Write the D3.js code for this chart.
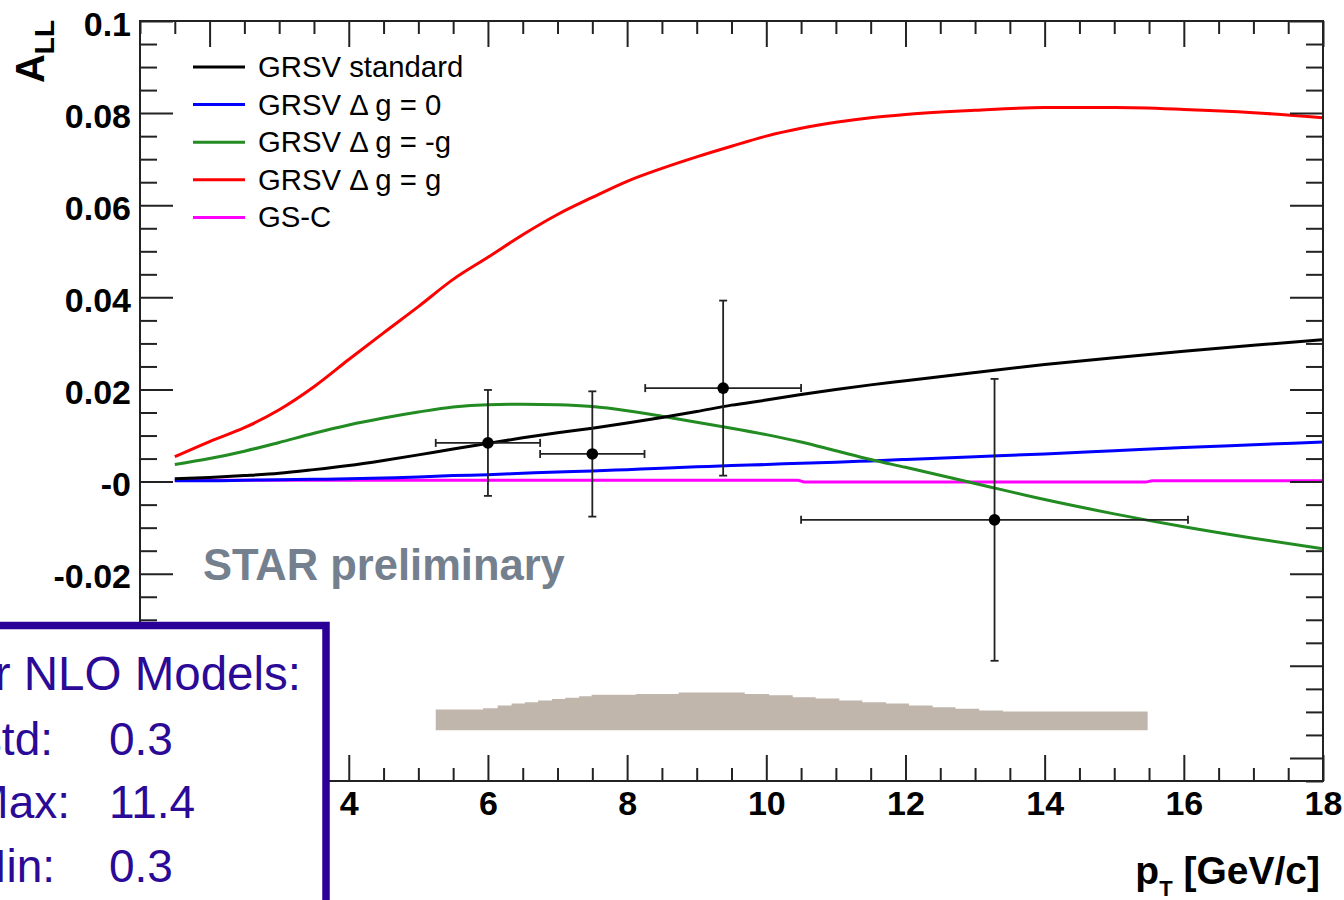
<!DOCTYPE html>
<html>
<head>
<meta charset="utf-8">
<script src="https://cdn.jsdelivr.net/npm/d3@7"></script>
<style>
body { margin:0; background:white; }
svg { display:block; font-family:"Liberation Sans", Arial, Helvetica, sans-serif; }
.axis .tick line { stroke:#222; stroke-width:2; }
.axis text { font-size:34px; font-weight:bold; fill:#000; font-family:"Liberation Sans", Arial, sans-serif; }
</style>
</head>
<body>
<svg id="chart"></svg>
<script>
// model curves, all sampled at the same pT values
var curveX = [1.5,2,2.5,3,3.5,4,4.5,5,5.5,6,6.5,7,7.5,8,8.5,9,9.5,10,10.5,11,11.5,12,13,14,15,16,17,18];
var grsvStd = [0.0006,0.0009,0.0013,0.0018,0.0026,0.0035,0.0046,0.0058,0.0071,0.0083,0.0095,0.0106,0.0116,0.0127,0.0139,0.0152,0.0166,0.0177,0.0189,0.0200,0.0210,0.0219,0.0237,0.0254,0.0269,0.0283,0.0296,0.0308];
var grsvZero = [0.0002,0.0002,0.0003,0.0004,0.0005,0.0006,0.0008,0.0010,0.0013,0.0015,0.0018,0.0021,0.0023,0.0026,0.0029,0.0032,0.0035,0.0037,0.0040,0.0042,0.0045,0.0048,0.0054,0.0060,0.0067,0.0074,0.0080,0.0086];
var grsvMinus = [0.0037,0.0050,0.0066,0.0085,0.0105,0.0123,0.0138,0.0151,0.0162,0.0167,0.0168,0.0167,0.0163,0.0154,0.0142,0.0129,0.0116,0.0102,0.0086,0.0067,0.0048,0.0031,-0.0004,-0.0039,-0.0070,-0.0098,-0.0123,-0.0146];
var grsvMax = [0.0054,0.0087,0.0117,0.0156,0.0206,0.0265,0.0323,0.0380,0.0439,0.0487,0.0536,0.0580,0.0617,0.0652,0.0680,0.0705,0.0728,0.0750,0.0767,0.0780,0.0790,0.0797,0.0806,0.0812,0.0812,0.0808,0.0801,0.0790];
// GS-C is almost flat, only a few steps
var gscX = [1.5,10.45,10.55,15.45,15.55,18];
var gscY = [0.0003,0.0003,-0.0001,-0.0001,0.0002,0.0002];

var seriesNames = ["GRSV standard","GRSV \u0394 g = 0","GRSV \u0394 g = -g","GRSV \u0394 g = g","GS-C"];
var seriesColors = ["#000000","#0000ff","#228b22","#ff0000","#ff00ff"];

// STAR data points
var ptX = [6.0, 7.5, 9.38, 13.28];
var ptY = [0.0084, 0.0060, 0.0203, -0.0083];
var ptXErr = [0.75, 0.75, 1.12, 2.78];
var ptYErr = [0.0115, 0.0136, 0.0190, 0.0306];

// systematic band
var bandEdges = [5.25,5.93,6.14,6.34,6.53,6.72,6.92,7.11,7.31,7.49,8.13,8.74,9.69,10.04,10.38,10.71,11.05,11.38,11.72,12.05,12.39,12.72,13.06,13.40,15.48];
var bandTop = [-0.0495,-0.0492,-0.0486,-0.0482,-0.0479,-0.0475,-0.0472,-0.0469,-0.0466,-0.0463,-0.0461,-0.0458,-0.0461,-0.0464,-0.0468,-0.0471,-0.0475,-0.0479,-0.0482,-0.0486,-0.0490,-0.0493,-0.0497,-0.0499];
var bandLow = -0.054;

var xMajor = [2,4,6,8,10,12,14,16,18];
var yMajor = [-0.06,-0.04,-0.02,0,0.02,0.04,0.06,0.08,0.1];
var yLabels = ["-0.06","-0.04","-0.02","-0","0.02","0.04","0.06","0.08","0.1"];

var chiTitle = "\u03c7\u00b2 for NLO Models:";
var chiNames = ["GRSV-std:","GRSV-Max:","GRSV-Min:"];
var chiValues = ["0.3","11.4","0.3"];

var screen = {width:1344, height:900};
var frame = {left:140, right:1323, top:21, bottom:781};

var svg = d3.select("#chart")
    .attr("width",screen.width)
    .attr("height",screen.height);

var xScale = d3.scaleLinear().domain([1,18]).range([frame.left,frame.right]);
var yScale = d3.scaleLinear().domain([-0.065,0.1]).range([frame.bottom,frame.top]);

var plot = svg.append("g").classed("plot",true);

//systematic band
var bandData = bandEdges.map(function(e,i){
    return {x:e, top:bandTop[Math.min(i,bandTop.length-1)]};
});
plot.append("path")
    .datum(bandData)
    .attr("fill","#c1b6ac")
    .attr("d",d3.area()
        .curve(d3.curveStepAfter)
        .x(function(d){return xScale(d.x);})
        .y0(yScale(bandLow))
        .y1(function(d){return yScale(d.top);}));

//model lines
var lineGenerator = d3.line()
    .x(function(d){return xScale(d[0]);})
    .y(function(d){return yScale(d[1]);})
    .curve(d3.curveMonotoneX);

var models = [grsvStd,grsvZero,grsvMinus,grsvMax].map(function(vals){
    return vals.map(function(v,i){return [curveX[i],v];});
});
models.push(gscX.map(function(x,i){return [x,gscY[i]];}));

// draw in an order close to the original overlap
[4,1,2,0,3].forEach(function(k){
    plot.append("path")
        .datum(models[k])
        .attr("fill","none")
        .attr("stroke",seriesColors[k])
        .attr("stroke-width",3)
        .attr("d",lineGenerator);
});

//data points with error bars
var pts = plot.selectAll(".pt")
    .data(ptX.map(function(x,i){return {x:x,y:ptY[i],ex:ptXErr[i],ey:ptYErr[i]};}))
    .enter()
    .append("g")
    .classed("pt",true)
    .attr("stroke","#222")
    .attr("stroke-width",1.8);

pts.append("line")
    .attr("x1",function(d){return xScale(d.x-d.ex);})
    .attr("x2",function(d){return xScale(d.x+d.ex);})
    .attr("y1",function(d){return yScale(d.y);})
    .attr("y2",function(d){return yScale(d.y);});
pts.append("line")
    .attr("x1",function(d){return xScale(d.x);})
    .attr("x2",function(d){return xScale(d.x);})
    .attr("y1",function(d){return yScale(d.y-d.ey);})
    .attr("y2",function(d){return yScale(d.y+d.ey);});
//end caps
[-1,1].forEach(function(s){
    pts.append("line")
        .attr("x1",function(d){return xScale(d.x+s*d.ex);})
        .attr("x2",function(d){return xScale(d.x+s*d.ex);})
        .attr("y1",function(d){return yScale(d.y)-4;})
        .attr("y2",function(d){return yScale(d.y)+4;});
    pts.append("line")
        .attr("x1",function(d){return xScale(d.x)-4;})
        .attr("x2",function(d){return xScale(d.x)+4;})
        .attr("y1",function(d){return yScale(d.y+s*d.ey);})
        .attr("y2",function(d){return yScale(d.y+s*d.ey);});
});
pts.append("circle")
    .attr("cx",function(d){return xScale(d.x);})
    .attr("cy",function(d){return yScale(d.y);})
    .attr("r",5.8)
    .attr("fill","#000")
    .attr("stroke","none");

//axes
var xMinor = d3.range(2,37).map(function(k){return k*0.5;}).filter(function(v){return v%2!==0;});
var yMinor = d3.range(-13,21).filter(function(k){return k%4!==0;}).map(function(k){return k*0.005;});

var axes = svg.append("g");
axes.append("g").classed("axis",true)
    .attr("transform","translate(0,"+frame.bottom+")")
    .call(d3.axisBottom(xScale).tickValues(xMajor).tickSize(-26).tickPadding(10).tickFormat(d3.format("d")));
axes.append("g").classed("axis",true)
    .attr("transform","translate(0,"+frame.bottom+")")
    .call(d3.axisBottom(xScale).tickValues(xMinor).tickSize(-13).tickFormat(""));
axes.append("g").classed("axis",true)
    .attr("transform","translate(0,"+frame.top+")")
    .call(d3.axisTop(xScale).tickValues(xMajor).tickSize(-26).tickFormat(""));
axes.append("g").classed("axis",true)
    .attr("transform","translate(0,"+frame.top+")")
    .call(d3.axisTop(xScale).tickValues(xMinor).tickSize(-13).tickFormat(""));

axes.append("g").classed("axis",true)
    .attr("transform","translate("+frame.left+",0)")
    .call(d3.axisLeft(yScale).tickValues(yMajor).tickSize(-33).tickPadding(9)
        .tickFormat(function(d,i){return yLabels[i];}))
    .selectAll("text").attr("dy",14);
axes.append("g").classed("axis",true)
    .attr("transform","translate("+frame.left+",0)")
    .call(d3.axisLeft(yScale).tickValues(yMinor).tickSize(-17).tickFormat(""));
axes.append("g").classed("axis",true)
    .attr("transform","translate("+frame.right+",0)")
    .call(d3.axisRight(yScale).tickValues(yMajor).tickSize(-33).tickFormat(""));
axes.append("g").classed("axis",true)
    .attr("transform","translate("+frame.right+",0)")
    .call(d3.axisRight(yScale).tickValues(yMinor).tickSize(-17).tickFormat(""));

axes.selectAll(".domain").remove();

axes.append("rect")
    .attr("x",frame.left)
    .attr("y",frame.top)
    .attr("width",frame.right-frame.left)
    .attr("height",frame.bottom-frame.top)
    .attr("fill","none")
    .attr("stroke","#222")
    .attr("stroke-width",2);

//axis titles
var yTitle = svg.append("text")
    .attr("transform","translate(44,20) rotate(-90)")
    .attr("text-anchor","end")
    .attr("font-weight","bold")
    .attr("font-size",40);
yTitle.append("tspan").text("A");
yTitle.append("tspan").text("LL").attr("font-size",28).attr("dy",10);

var xTitle = svg.append("text")
    .attr("x",1320)
    .attr("y",884)
    .attr("text-anchor","end")
    .attr("font-weight","bold")
    .attr("font-size",39);
xTitle.append("tspan").text("p");
xTitle.append("tspan").text("T").attr("font-size",22).attr("dy",12);
xTitle.append("tspan").text(" [GeV/c]").attr("dy",-12);

//legend
var legend = svg.append("g")
    .classed("legend",true)
    .attr("transform","translate(193,67)");
var rows = legend.selectAll("g")
    .data(seriesNames)
    .enter()
    .append("g")
    .attr("transform",function(d,i){return "translate(0,"+(i*37.6)+")";});
rows.append("line")
    .attr("x1",0).attr("x2",52)
    .attr("stroke",function(d,i){return seriesColors[i];})
    .attr("stroke-width",3);
rows.append("text")
    .text(function(d){return d;})
    .attr("x",65)
    .attr("y",10)
    .attr("font-size",29.3);

svg.append("text")
    .text("STAR preliminary")
    .attr("x",203)
    .attr("y",580)
    .attr("font-weight","bold")
    .attr("font-size",43.5)
    .attr("fill","#74808e");

//chi2 box, partly off the page
var box = svg.append("g").classed("chi2",true);
box.append("rect")
    .attr("x",-30)
    .attr("y",625.5)
    .attr("width",356)
    .attr("height",320)
    .attr("fill","white")
    .attr("stroke","#2a0096")
    .attr("stroke-width",7.5);
box.append("text")
    .text(chiTitle)
    .attr("x",301)
    .attr("y",690)
    .attr("text-anchor","end")
    .attr("font-size",47.5)
    .attr("fill","#2a0a96");
var chiRowY = [755,818,882];
var chiNameEnd = [53,70,55];
chiNames.forEach(function(n,i){
    box.append("text")
        .text(n)
        .attr("x",chiNameEnd[i])
        .attr("y",chiRowY[i])
        .attr("text-anchor","end")
        .attr("font-size",46)
        .attr("fill","#2a0a96");
    box.append("text")
        .text(chiValues[i])
        .attr("x",109)
        .attr("y",chiRowY[i])
        .attr("font-size",46)
        .attr("fill","#2a0a96");
});
</script>
</body>
</html>
